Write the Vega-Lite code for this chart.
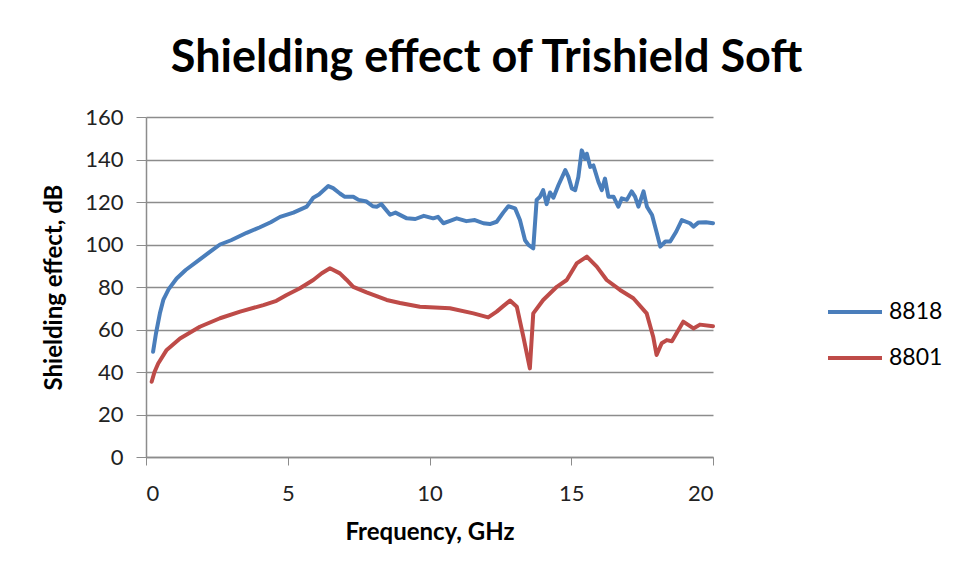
{
  "$schema": "https://vega.github.io/schema/vega-lite/v6.json",
  "width": 567,
  "height": 340,
  "autosize": {"type": "none"},
  "padding": {"left": 146, "top": 117, "right": 241, "bottom": 120},
  "background": "white",
  "title": {
    "text": "Shielding effect of Trishield Soft",
    "font": "Lato",
    "fontSize": 45,
    "fontWeight": "bold",
    "color": "#000000",
    "anchor": "middle",
    "dx": 57,
    "offset": 25
  },
  "config": {
    "view": {"stroke": null},
    "font": "Lato"
  },
  "data": {
    "values": [
      {"series": "8818", "f": 0.25, "v": 49.5},
      {"series": "8818", "f": 0.35, "v": 58},
      {"series": "8818", "f": 0.49, "v": 67.6},
      {"series": "8818", "f": 0.61, "v": 73.9},
      {"series": "8818", "f": 0.8, "v": 79},
      {"series": "8818", "f": 1.08, "v": 84},
      {"series": "8818", "f": 1.4, "v": 88},
      {"series": "8818", "f": 1.9, "v": 93},
      {"series": "8818", "f": 2.3, "v": 97},
      {"series": "8818", "f": 2.61, "v": 100},
      {"series": "8818", "f": 3.0, "v": 102},
      {"series": "8818", "f": 3.55, "v": 105.5},
      {"series": "8818", "f": 4.0, "v": 108},
      {"series": "8818", "f": 4.4, "v": 110.5},
      {"series": "8818", "f": 4.73, "v": 113},
      {"series": "8818", "f": 5.2, "v": 115},
      {"series": "8818", "f": 5.67, "v": 117.8},
      {"series": "8818", "f": 5.9, "v": 122},
      {"series": "8818", "f": 6.1, "v": 123.5},
      {"series": "8818", "f": 6.43, "v": 127.5},
      {"series": "8818", "f": 6.6, "v": 126.5},
      {"series": "8818", "f": 6.84, "v": 124},
      {"series": "8818", "f": 7.0, "v": 122.5},
      {"series": "8818", "f": 7.31, "v": 122.5},
      {"series": "8818", "f": 7.5, "v": 121},
      {"series": "8818", "f": 7.78, "v": 120.2},
      {"series": "8818", "f": 8.0, "v": 118},
      {"series": "8818", "f": 8.14, "v": 117.8},
      {"series": "8818", "f": 8.3, "v": 119},
      {"series": "8818", "f": 8.61, "v": 114},
      {"series": "8818", "f": 8.8, "v": 115},
      {"series": "8818", "f": 9.2, "v": 112.3},
      {"series": "8818", "f": 9.5, "v": 112},
      {"series": "8818", "f": 9.8, "v": 113.5},
      {"series": "8818", "f": 10.13, "v": 112.3},
      {"series": "8818", "f": 10.3, "v": 113},
      {"series": "8818", "f": 10.49, "v": 110},
      {"series": "8818", "f": 10.7, "v": 111},
      {"series": "8818", "f": 10.96, "v": 112.3},
      {"series": "8818", "f": 11.3, "v": 111},
      {"series": "8818", "f": 11.6, "v": 111.5},
      {"series": "8818", "f": 11.9, "v": 110},
      {"series": "8818", "f": 12.13, "v": 109.6},
      {"series": "8818", "f": 12.37, "v": 110.7},
      {"series": "8818", "f": 12.6, "v": 115},
      {"series": "8818", "f": 12.78, "v": 118},
      {"series": "8818", "f": 13.02, "v": 117},
      {"series": "8818", "f": 13.19, "v": 111.5},
      {"series": "8818", "f": 13.37, "v": 102},
      {"series": "8818", "f": 13.49, "v": 99.8},
      {"series": "8818", "f": 13.66, "v": 98.2},
      {"series": "8818", "f": 13.78, "v": 121},
      {"series": "8818", "f": 13.9, "v": 122.5},
      {"series": "8818", "f": 14.01, "v": 125.6},
      {"series": "8818", "f": 14.13, "v": 119},
      {"series": "8818", "f": 14.25, "v": 124.5},
      {"series": "8818", "f": 14.37, "v": 122},
      {"series": "8818", "f": 14.55, "v": 128},
      {"series": "8818", "f": 14.79, "v": 135},
      {"series": "8818", "f": 14.9, "v": 131.8},
      {"series": "8818", "f": 15.02, "v": 126.4},
      {"series": "8818", "f": 15.14, "v": 125.6},
      {"series": "8818", "f": 15.25, "v": 131.8},
      {"series": "8818", "f": 15.37, "v": 144.3},
      {"series": "8818", "f": 15.49, "v": 140.3},
      {"series": "8818", "f": 15.55, "v": 142.7},
      {"series": "8818", "f": 15.67, "v": 136.5},
      {"series": "8818", "f": 15.78, "v": 137.2},
      {"series": "8818", "f": 15.96, "v": 129.4},
      {"series": "8818", "f": 16.08, "v": 125.6},
      {"series": "8818", "f": 16.19, "v": 131},
      {"series": "8818", "f": 16.31, "v": 122.5},
      {"series": "8818", "f": 16.49, "v": 122.5},
      {"series": "8818", "f": 16.66, "v": 117.8},
      {"series": "8818", "f": 16.78, "v": 121.7},
      {"series": "8818", "f": 16.96, "v": 121},
      {"series": "8818", "f": 17.13, "v": 125},
      {"series": "8818", "f": 17.25, "v": 122.5},
      {"series": "8818", "f": 17.37, "v": 117.8},
      {"series": "8818", "f": 17.55, "v": 125},
      {"series": "8818", "f": 17.67, "v": 117.8},
      {"series": "8818", "f": 17.85, "v": 113.9},
      {"series": "8818", "f": 18.02, "v": 105.3},
      {"series": "8818", "f": 18.14, "v": 99},
      {"series": "8818", "f": 18.32, "v": 101.4},
      {"series": "8818", "f": 18.49, "v": 101.4},
      {"series": "8818", "f": 18.7, "v": 106},
      {"series": "8818", "f": 18.9, "v": 111.5},
      {"series": "8818", "f": 19.19, "v": 110},
      {"series": "8818", "f": 19.31, "v": 108.4},
      {"series": "8818", "f": 19.49, "v": 110.4},
      {"series": "8818", "f": 19.75, "v": 110.5},
      {"series": "8818", "f": 20.0, "v": 110},
      {"series": "8801", "f": 0.2, "v": 35.4},
      {"series": "8801", "f": 0.3, "v": 40},
      {"series": "8801", "f": 0.43, "v": 44},
      {"series": "8801", "f": 0.73, "v": 50.4},
      {"series": "8801", "f": 1.2, "v": 55.8},
      {"series": "8801", "f": 1.9, "v": 61.3},
      {"series": "8801", "f": 2.61, "v": 65.3},
      {"series": "8801", "f": 3.32, "v": 68.4},
      {"series": "8801", "f": 4.14, "v": 71.5},
      {"series": "8801", "f": 4.6, "v": 73.5},
      {"series": "8801", "f": 4.96, "v": 76.2},
      {"series": "8801", "f": 5.43, "v": 79.4},
      {"series": "8801", "f": 5.9, "v": 83.3},
      {"series": "8801", "f": 6.2, "v": 86.5},
      {"series": "8801", "f": 6.49, "v": 88.8},
      {"series": "8801", "f": 6.84, "v": 86.4},
      {"series": "8801", "f": 7.08, "v": 83.3},
      {"series": "8801", "f": 7.31, "v": 80.1},
      {"series": "8801", "f": 7.78, "v": 77.5},
      {"series": "8801", "f": 8.49, "v": 73.9},
      {"series": "8801", "f": 8.96, "v": 72.5},
      {"series": "8801", "f": 9.66, "v": 70.7},
      {"series": "8801", "f": 10.72, "v": 70},
      {"series": "8801", "f": 11.55, "v": 67.6},
      {"series": "8801", "f": 12.07, "v": 65.7},
      {"series": "8801", "f": 12.37, "v": 68.4},
      {"series": "8801", "f": 12.6, "v": 71},
      {"series": "8801", "f": 12.84, "v": 73.6},
      {"series": "8801", "f": 13.08, "v": 70.7},
      {"series": "8801", "f": 13.31, "v": 56.6},
      {"series": "8801", "f": 13.54, "v": 41.7},
      {"series": "8801", "f": 13.66, "v": 67.6},
      {"series": "8801", "f": 14.01, "v": 73.9},
      {"series": "8801", "f": 14.49, "v": 80.1},
      {"series": "8801", "f": 14.84, "v": 83.3},
      {"series": "8801", "f": 15.19, "v": 91.1},
      {"series": "8801", "f": 15.55, "v": 94.3},
      {"series": "8801", "f": 15.9, "v": 89.6},
      {"series": "8801", "f": 16.25, "v": 83.3},
      {"series": "8801", "f": 16.72, "v": 78.6},
      {"series": "8801", "f": 17.19, "v": 74.7},
      {"series": "8801", "f": 17.66, "v": 67.6},
      {"series": "8801", "f": 17.89, "v": 56.6},
      {"series": "8801", "f": 18.01, "v": 48},
      {"series": "8801", "f": 18.19, "v": 53.5},
      {"series": "8801", "f": 18.37, "v": 55},
      {"series": "8801", "f": 18.55, "v": 54.5},
      {"series": "8801", "f": 18.95, "v": 63.7},
      {"series": "8801", "f": 19.31, "v": 60.5},
      {"series": "8801", "f": 19.54, "v": 62.3},
      {"series": "8801", "f": 20.0, "v": 61.5}
    ]
  },
  "mark": {"type": "line", "strokeWidth": 4, "strokeJoin": "round", "strokeCap": "round"},
  "encoding": {
    "x": {
      "field": "f",
      "type": "quantitative",
      "scale": {"domain": [0, 20], "nice": false},
      "axis": {
        "values": [0, 5, 10, 15, 20],
        "title": "Frequency, GHz",
        "titleFont": "Lato",
        "titleFontSize": 24,
        "titleFontWeight": "bold",
        "titleColor": "#000000",
        "titlePadding": 16,
        "labelFont": "Lato",
        "labelFontSize": 22,
        "labelColor": "#222222",
        "labelPadding": 18,
        "tickSize": 8,
        "tickColor": "#8c8c8c",
        "domainColor": "#8c8c8c",
        "domainWidth": 1.5,
        "grid": false
      }
    },
    "y": {
      "field": "v",
      "type": "quantitative",
      "scale": {"domain": [0, 160], "nice": false},
      "axis": {
        "values": [0, 20, 40, 60, 80, 100, 120, 140, 160],
        "title": "Shielding effect, dB",
        "titleFont": "Lato",
        "titleFontSize": 24,
        "titleFontWeight": "bold",
        "titleColor": "#000000",
        "titlePadding": 18,
        "labelFont": "Lato",
        "labelFontSize": 22,
        "labelColor": "#222222",
        "labelPadding": 13,
        "tickSize": 10,
        "tickColor": "#8c8c8c",
        "domainColor": "#8c8c8c",
        "domainWidth": 1.5,
        "grid": true,
        "gridColor": "#8c8c8c",
        "gridWidth": 1.5
      }
    },
    "color": {
      "field": "series",
      "type": "nominal",
      "scale": {"domain": ["8818", "8801"], "range": ["#4a7ebb", "#be4b48"]},
      "legend": {
        "title": null,
        "orient": "none",
        "legendX": 680,
        "legendY": 166,
        "symbolType": "stroke",
        "symbolSize": 2916,
        "symbolStrokeWidth": 4,
        "labelFont": "Lato",
        "labelFontSize": 23,
        "labelColor": "#000000",
        "labelOffset": 5,
        "rowPadding": 5
      }
    }
  }
}
